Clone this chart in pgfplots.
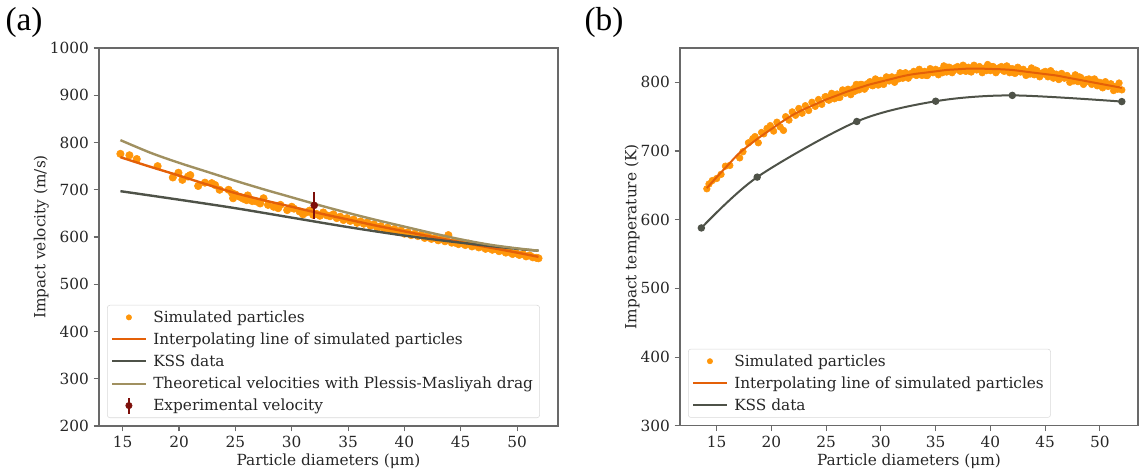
\documentclass[border=0pt]{standalone}
\usepackage{fontspec}
\setmainfont{DejaVu Serif}
\newfontfamily\panelfont{Liberation Serif}
\usepackage{pgfplots}
\pgfplotsset{compat=1.18}

\definecolor{scat}{RGB}{255,150,10}
\definecolor{interp}{RGB}{228,96,8}
\definecolor{kss}{RGB}{78,82,72}
\definecolor{theo}{RGB}{160,144,96}
\definecolor{expc}{RGB}{125,15,10}
\definecolor{spine}{RGB}{105,105,105}

\newcommand{\fs}{\fontsize{11.5}{13.5}\selectfont}

\pgfplotsset{
 myaxis/.style={
  scale only axis, width=344.25pt, height=283.5pt,
  axis line style={spine, line width=0.8pt},
  tick style={spine, line width=0.8pt},
  major tick length=4pt, tick align=outside,
  xtick pos=bottom, ytick pos=left,
  tick label style={font=\fs, text=black!85},
  label style={font=\fs, text=black!85},
  ylabel shift=-6pt, xlabel shift=-2pt,
  /pgf/number format/assume math mode=true,
  /pgf/number format/1000 sep={},
  scaled ticks=false,
  xtick={15,20,...,50},
 },
 overaxis/.style={
  scale only axis, width=344.25pt, height=283.5pt,
  hide axis,
  legend cell align=left,
  legend style={font=\fs, draw=black!15, rounded corners=2pt,
    at={(0,0)}, anchor=south west, xshift=6pt, yshift=6pt,
    inner xsep=3pt, inner ysep=2pt, row sep=2.3pt, text=black!85,
    /tikz/every odd column/.append style={column sep=3pt}},
 },
 lineleg/.style={legend image code/.code={\draw[#1, line width=1.5pt] (0pt,0pt) -- (25pt,0pt);}},
}

\begin{document}
\begin{tikzpicture}
\useasboundingbox (0,0) rectangle (854.25pt,-353.25pt);

\node[font=\panelfont\fontsize{25}{30}\selectfont, text=black] at (18pt,-16.5pt) {(a)};
\node[font=\panelfont\fontsize{25}{30}\selectfont, text=black] at (453pt,-16.5pt) {(b)};

% ---------------- (a) scatter + frame ----------------
\begin{axis}[myaxis, at={(74.25pt,-319.5pt)}, anchor=south west,
  xmin=12.9, xmax=53.63, ymin=200, ymax=1000,
  ytick={200,300,...,1000},
  xlabel={Particle diameters (μm)}, ylabel={Impact velocity (m/s)}]
\addplot[only marks, mark=*, mark size=2.8pt, scat, mark options={draw=none, fill=scat}]
coordinates {
(14.8,776)(15.6,773)(16.25,765)(18.1,750)(19.45,726)(19.95,736)(20.3,721)(20.8,728)
(21.0,731)(21.7,708)(22.3,715)(22.9,714)(23.2,710)(23.6,700)(24.4,700)(24.7,693)
(24.8,682)(25.0,690)(25.4,685)(25.7,681)(26.0,678)(26.1,688)(26.5,676)(26.9,675)
(27.2,671)(27.5,682)(27.9,668)(28.4,664)(28.8,661)(29.0,668)(29.6,657)(30.0,664)
(30.2,660)(30.7,654)(31.0,648)(31.3,652)(31.6,656)(31.9,647)
(32.2,649)(32.5,645)(32.8,652)(33.1,646)(33.4,644)(33.7,648)(34.0,640)(34.3,643)
(34.6,636)(34.9,640)(35.2,634)(35.5,637)(35.8,630)(36.1,633)(36.4,628)(36.7,631)
(37.0,624)(37.3,627)(37.6,619)(37.9,623)(38.2,617)(38.5,620)(38.8,614)(39.1,617)
(39.4,611)(39.7,614)(40.0,607)(40.3,610)(40.6,604)(40.9,607)(41.2,602)(41.5,605)
(41.8,598)(42.1,602)(42.4,596)(42.7,598)(43.0,593)(43.3,596)(43.6,591)(43.9,604)
(44.2,588)(44.5,588)(44.8,585)(45.1,587)(45.4,583)(45.7,586)(46.0,580)(46.3,583)
(46.6,578)(46.9,580)(47.2,575)(47.5,577)(47.8,573)(48.1,575)(48.4,570)(48.7,572)
(49.0,567)(49.3,569)(49.6,564)(49.9,566)(50.2,562)(50.5,564)(50.8,559)(51.1,561)
(51.4,557)(51.7,556)(51.9,555)
};
\end{axis}

% ---------------- (a) lines + legend ----------------
\begin{axis}[overaxis, at={(74.25pt,-319.5pt)}, anchor=south west,
  xmin=12.9, xmax=53.63, ymin=200, ymax=1000]
\addlegendimage{legend image code/.code={\fill[scat] (12.5pt,0pt) circle (2pt);}}
\addlegendentry{Simulated particles}

\addplot[interp, line width=1.8pt, smooth, lineleg=interp]
coordinates {(14.8,769)(17,752)(20,730)(22.5,711)(25,693)(27.5,678)(30,664)(32.5,650)
(35,637)(37.5,624)(40,612)(42.5,600)(45,589)(47.5,578)(50,567)(51.9,558)};
\addlegendentry{Interpolating line of simulated particles}

\addplot[kss, line width=1.8pt, smooth, lineleg=kss]
coordinates {(14.8,697)(20,679)(25,661)(30,641)(35,621)(40,603)(45,588)(50,575)(51.9,571)};
\addlegendentry{KSS data}

\addplot[theo, line width=1.8pt, smooth, lineleg=theo]
coordinates {(14.8,805)(17.5,778)(20,757)(22.5,738)(25,719)(27.5,701)(30,684)(32.5,667)
(35,651)(37.5,636)(40,622)(42.5,608)(45,595)(47.5,584)(50,576)(51.9,571)};
\addlegendentry{Theoretical velocities with Plessis-Masliyah drag}

\addplot[expc, only marks, mark=*, mark size=2.6pt, mark options={fill=expc, draw=expc},
  forget plot,
  error bars/.cd, y dir=both, y explicit, error mark=none,
  error bar style={expc, line width=1.6pt}]
  coordinates {(32,667) +- (0,29)};
\addlegendimage{legend image code/.code={\draw[expc, line width=1.5pt] (12.5pt,-6pt) -- (12.5pt,6pt); \fill[expc] (12.5pt,0pt) circle (2.4pt);}}
\addlegendentry{Experimental velocity}
\end{axis}

% ---------------- (b) scatter + frame ----------------
\begin{axis}[myaxis, width=343.5pt, height=283.3pt,
  at={(510pt,-319.3pt)}, anchor=south west,
  xmin=11.65, xmax=53.48, ymin=300, ymax=850,
  ytick={300,400,...,800},
  xlabel={Particle diameters (μm)}, ylabel={Impact temperature (K)}]
\addplot[only marks, mark=*, mark size=2.5pt, scat, mark options={draw=none, fill=scat}]
coordinates {
(14.1,645)(14.3,652)(14.6,657)(15.0,660)(15.4,666)(15.8,678)(16.2,679)(17.1,690)
(17.4,699)(17.9,712)(18.3,718)(18.5,721)(18.8,712)(19.1,727)(19.3,725)(19.6,733)
(19.9,737)(20.2,729)(20.5,742)(20.8,735)(21.1,730)(21.3,750)(21.6,745)(21.9,757)
(22.2,752)(22.5,762)(22.8,755)(23.1,766)(23.4,759)(23.7,771)(24.0,765)(24.3,775)
(24.6,768)(24.9,779)
(25.00,779)(25.25,774)(25.5,784)(25.75,776)(26.0,783)(26.25,778)(26.5,789)(26.75,784)
(27.0,790)(27.25,782)(27.5,791)(27.75,797)(28.0,789)(28.25,797)(28.5,790)(28.75,798)
(29.0,801)(29.25,795)(29.5,805)(29.75,796)(30.0,803)(30.25,797)(30.5,808)(30.75,802)
(31.0,808)(31.25,800)(31.5,808)(31.75,814)(32.0,806)(32.25,814)(32.5,806)(32.75,813)
(33.0,816)(33.25,810)(33.5,819)(33.75,810)(34.0,816)(34.25,810)(34.5,820)(34.75,814)
(35.0,819)(35.25,811)(35.5,818)(35.75,824)(36.0,815)(36.25,822)(36.5,814)(36.75,821)
(37.0,823)(37.25,816)(37.5,825)(37.75,816)(38.0,822)(38.25,815)(38.5,825)(38.75,818)
(39.0,823)(39.25,814)(39.5,821)(39.75,826)(40.0,817)(40.25,823)(40.5,814)(40.75,821)
(41.0,823)(41.25,816)(41.5,824)(41.75,814)(42.0,820)(42.25,813)(42.5,822)(42.75,815)
(43.0,819)(43.25,810)(43.5,816)(43.75,821)(44.0,811)(44.25,817)(44.5,808)(44.75,814)
(45.0,816)(45.25,808)(45.5,817)(45.75,806)(46.0,812)(46.25,804)(46.5,813)(46.75,806)
(47.0,810)(47.25,800)(47.5,806)(47.75,811)(48.0,801)(48.25,807)(48.5,797)(48.75,804)
(49.0,805)(49.25,797)(49.5,805)(49.75,795)(50.0,800)(50.25,792)(50.5,801)(50.75,794)
(51.0,798)(51.25,788)(51.5,794)(51.75,799)(52.0,789)
(25.125,775)(25.625,782)(26.125,778)(26.625,787)(27.125,788)(27.625,787)(28.125,797)(28.625,793)
(29.125,796)(29.625,803)(30.125,798)(30.625,806)(31.125,806)(31.625,805)(32.125,813)(32.625,809)
(33.125,811)(33.625,816)(34.125,810)(34.625,817)(35.125,816)(35.625,814)(36.125,822)(36.625,817)
(37.125,818)(37.625,823)(38.125,816)(38.625,822)(39.125,820)(39.625,817)(40.125,823)(40.625,817)
(41.125,818)(41.625,821)(42.125,814)(42.625,819)(43.125,816)(43.625,812)(44.125,818)(44.625,811)
(45.125,811)(45.625,814)(46.125,806)(46.625,810)(47.125,807)(47.625,802)(48.125,808)(48.625,800)
(49.125,800)(49.625,802)(50.125,794)(50.625,798)(51.125,795)(51.625,790)
};
\end{axis}

% ---------------- (b) lines + legend ----------------
\begin{axis}[overaxis, width=343.5pt, height=283.3pt,
  at={(510pt,-319.3pt)}, anchor=south west,
  xmin=11.65, xmax=53.48, ymin=300, ymax=850]
\addlegendimage{legend image code/.code={\fill[scat] (12.5pt,0pt) circle (2pt);}}
\addlegendentry{Simulated particles}

\addplot[interp, line width=1.5pt, smooth, lineleg=interp]
coordinates {(14.1,646)(15,662)(16,679)(17,696)(18,709)(19,721)(20,732)(21,743)(22,753)
(23,761)(24,768)(25,775)(26,781)(27,787)(28,792)(29,797)(30,801)(31,805)(32,809)(33,812)
(34,814)(35,816)(36,818)(37,819)(38,820)(39,820)(40,819.5)(41,819)(42,818)(43,816)
(44,814)(45,812)(46,810)(47,807)(48,804)(49,801)(50,798)(51,795)(52,792)};
\addlegendentry{Interpolating line of simulated particles}

\addplot[kss, line width=1.5pt, smooth, mark=*, mark size=2pt, mark options={fill=kss, draw=kss}, lineleg=kss]
coordinates {(13.6,588)(18.7,662)(27.8,743)(35,772.5)(42,781)(52,772)};
\addlegendentry{KSS data}
\end{axis}
\end{tikzpicture}
\end{document}
